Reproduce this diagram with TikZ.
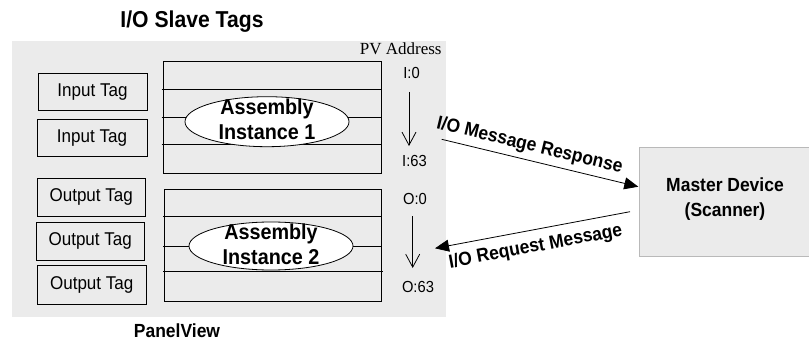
\documentclass[tikz,border=0pt]{standalone}
\usepackage{fontspec}
\setmainfont{Liberation Sans}[FakeStretch=0.92]
\newfontfamily\pvserif{Liberation Serif}
\usetikzlibrary{arrows.meta,shapes.geometric}
\definecolor{panelgray}{RGB}{235,235,235}
\definecolor{boxedge}{RGB}{185,185,185}
\begin{document}
\begin{tikzpicture}[x=1pt,y=-1pt,line width=0.8pt,
  tagbox/.style={draw=black,minimum width=109pt,minimum height=37.5pt,inner sep=0pt,
    font=\fontsize{18.5}{20}\selectfont},
  tablebox/.style={draw=black,minimum width=217.5pt,minimum height=112pt,inner sep=0pt},
  asm/.style={ellipse,draw=black,fill=white,minimum width=164pt,minimum height=49pt,inner sep=0pt},
  asmtext/.style={inner sep=0pt,align=center,font=\bfseries\fontsize{21.5}{25}\selectfont},
  addr/.style={inner sep=0pt,font=\fontsize{16}{16}\selectfont},
  vflow/.style={-{Straight Barb[length=13pt,width=14pt]}},
  msgflow/.style={-{Triangle[length=14pt,width=12pt]}},
  msglabel/.style={sloped,inner sep=0pt,font=\bfseries\fontsize{19}{19}\selectfont},
  bigtext/.style={inner sep=0pt,font=\bfseries\fontsize{19}{19}\selectfont}]
\useasboundingbox (0,0) rectangle (809,345);
% panel
\node[fill=panelgray,minimum width=434pt,minimum height=276pt,inner sep=0pt,anchor=north west] (panel) at (12,41) {};
\node[inner sep=0pt,font=\bfseries\fontsize{23}{23}\selectfont] (title) at (192,22) {I/O Slave Tags};
\node[bigtext] (pvlabel) at (177,331) {PanelView};
\node[inner sep=0pt,anchor=east,font=\pvserif\fontsize{17}{17}\selectfont] (pvaddr) at (442,49) {PV Address};
% tag boxes
\node[tagbox] (in1) at (92.5,92) {Input Tag};
\node[tagbox,minimum width=110pt] (in2) at (92,137.8) {Input Tag};
\node[tagbox,minimum width=107.7pt] (out1) at (91.2,197.2) {Output Tag};
\node[tagbox,minimum width=108.3pt] (out2) at (90.2,241.2) {Output Tag};
\node[tagbox,minimum width=108.7pt,minimum height=38.3pt] (out3) at (91.7,284.8) {Output Tag};
% tables
\node[tablebox] (t1) at (272.2,117.2) {};
\draw (161.7,89.3) -- (381,89.3);
\draw (161.7,117.3) -- (381,117.3);
\draw (161.7,144.3) -- (381,144.3);
\node[tablebox] (t2) at (273,245) {};
\draw (163,216.7) -- (381.7,216.7);
\draw (163,246) -- (381.7,246);
\draw (163,271) -- (383,271);
% ellipses
\node[asm,minimum height=50pt] (e1) at (267,121.7) {};
\node[asmtext] (e1t) at (267,119.5) {Assembly\\Instance 1};
\node[asm,minimum height=48pt] (e2) at (271,246) {};
\node[asmtext] (e2t) at (271,244) {Assembly\\Instance 2};
% addresses
\node[addr] (i0) at (411.5,73.3) {I:0};
\node[addr] (i63) at (414.5,161) {I:63};
\node[addr] (o0) at (415,199) {O:0};
\node[addr] (o63) at (418,287) {O:63};
\coordinate (ia) at (409,92);
\coordinate (ib) at (409,146);
\coordinate (oa) at (412.7,216);
\coordinate (ob) at (412.7,268);
\draw[vflow] (ia) -- (ib);
\draw[vflow] (oa) -- (ob);
% master
\node[draw=boxedge,fill=panelgray,minimum width=175pt,minimum height=108.4pt,inner sep=0pt,anchor=north west] (master) at (639.3,147.3) {};
\node[bigtext,align=center,font=\bfseries\fontsize{19}{25}\selectfont] (mtext) at (725,199) {Master Device\\(Scanner)};
% messages
\coordinate (rs) at (441.7,139.3);
\coordinate (re) at (638.3,186.7);
\coordinate (qs) at (630,211.7);
\coordinate (qe) at (435,248.3);
\draw[msgflow] (rs) -- (re) node[msglabel,pos=0.43,anchor=south,inner sep=5pt] {I/O Message Response};
\draw[msgflow] (qs) -- (qe) node[msglabel,pos=0.5,anchor=north,inner sep=8pt] {I/O Request Message};
\end{tikzpicture}
\end{document}
